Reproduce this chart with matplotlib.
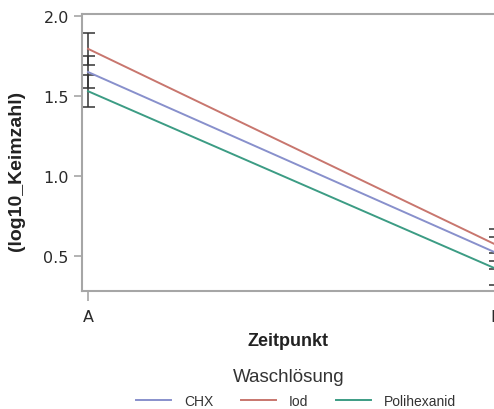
import matplotlib.pyplot as plt

# data
zeitpunkt = ['A', 'B']
chx = [1.65, 0.52]
iod = [1.795, 0.57]
poli = [1.53, 0.42]
err_chx = [0.10, 0.10]
err_iod = [0.10, 0.10]
err_poli = [0.10, 0.10]

c_chx = '#8890CC'
c_iod = '#C8766E'
c_poli = '#3C9C84'
grey = '#A6A6A6'

fig = plt.figure(figsize=(4.94, 4.10), dpi=100)
ax = fig.add_axes([82/494, 1-292/410, 423/494, 277/410])

x = [0, 1]
for vals, err in [(iod, err_iod), (chx, err_chx), (poli, err_poli)]:
    ax.errorbar(x, vals, yerr=err, fmt='none', ecolor='#333333',
                elinewidth=1.1, capsize=5, capthick=1.1, zorder=2)
ax.plot(x, chx, color=c_chx, lw=1.4, label='CHX', zorder=3)
ax.plot(x, iod, color=c_iod, lw=1.4, label='Iod', zorder=3)
ax.plot(x, poli, color=c_poli, lw=1.4, label='Polihexanid', zorder=3)

ax.set_xlim(-6/408, 417/408)
ax.set_ylim(0.281, 2.0125)
ax.set_xticks(x)
ax.set_xticklabels(zeitpunkt)
ax.set_yticks([0.5, 1.0, 1.5, 2.0])
ax.set_yticklabels(['0.5', '1.0', '1.5', '2.0'])
for s in ax.spines.values():
    s.set_color(grey)
    s.set_linewidth(1.5)
ax.tick_params(axis='both', colors=grey, labelcolor='#2a2a2a', labelsize=11.5,
               length=6, width=1.2)
ax.tick_params(axis='x', length=7, pad=6)

fig.text(17/494, 1-171/410, '(log10_Keimzahl)', rotation=90, ha='center',
         va='center', fontsize=14, fontweight='bold', family='Liberation Sans',
         color='#222222')
fig.text(288/494, 1-342/410, 'Zeitpunkt', ha='center', va='center',
         fontsize=13, fontweight='bold', family='Liberation Sans', color='#222222')

fig.text(289/494, 1-378/410, 'Waschlösung', ha='center', va='center',
         fontsize=13.5, family='Liberation Sans', color='#333333')
leg = fig.legend(loc='center', bbox_to_anchor=(296/494, 1-402/410), ncol=3,
                 frameon=False, borderpad=0,
                 prop={'family': 'Liberation Sans', 'size': 10},
                 handlelength=2.5, handletextpad=0.95, columnspacing=2.0)
for t in leg.get_texts():
    t.set_color('#333333')

fig.savefig('out.png', dpi=100)
